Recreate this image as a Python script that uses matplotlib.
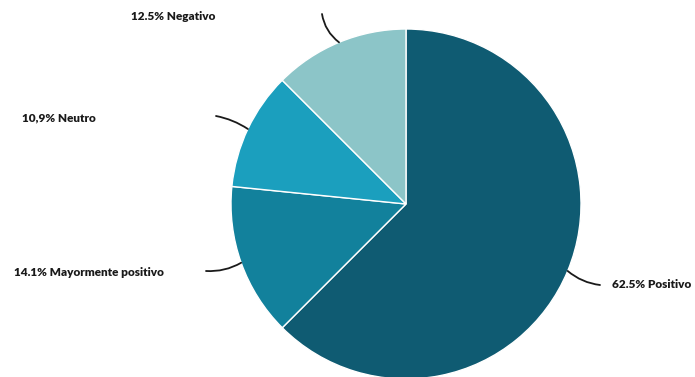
import numpy as np
import matplotlib
matplotlib.use("Agg")
import matplotlib.pyplot as plt

labels = ["Positivo", "Mayormente positivo", "Neutro", "Negativo"]
values = [62.5, 14.1, 10.9, 12.5]
pct_text = ["62.5%", "14.1%", "10,9%", "12.5%"]
colors = ["#0f5b72", "#12819c", "#1b9fbe", "#8cc5c8"]

W, H = 695, 377
CX, CY, R = 406, 204, 175  # pixel geometry of the pie


def px(x, y):
    return ((x - CX) / R, (CY - y) / R)


fig = plt.figure(figsize=(W / 100, H / 100), dpi=100)
ax = fig.add_axes([0, 0, 1, 1])

wedges, _ = ax.pie(values, colors=colors, startangle=90, counterclock=False,
                   radius=1.0, center=(0, 0), frame=True,
                   wedgeprops=dict(edgecolor="white", linewidth=1.0))
ax.set_xlim(-CX / R, (W - CX) / R)
ax.set_ylim(-(H - CY) / R, CY / R)
ax.set_aspect("auto")
ax.axis("off")

# leader line ends (pixel) and text anchors (pixel, left edge, center y)
line_end = [(600, 285), (206, 271), (216, 116), (322, 14)]
text_pos = [(612, 285), (14, 273), (22, 118), (131, 17)]
rads = [-0.15, 0.15, -0.1, 0.2]

for w, le, tp, lab, pt, rad in zip(wedges, line_end, text_pos, labels, pct_text, rads):
    ang = np.deg2rad((w.theta1 + w.theta2) / 2)
    start = (np.cos(ang), np.sin(ang))
    ax.annotate("", xy=start, xytext=px(*le),
                arrowprops=dict(arrowstyle="-", color="#1a1a1a", lw=1.3,
                                shrinkA=0, shrinkB=0,
                                connectionstyle=f"arc3,rad={rad}"))
    tx, ty = px(*tp)
    ax.text(tx, ty, f"{pt} {lab}", ha="left", va="center", fontsize=8.5,
            fontweight="heavy", family="Lato", color="#1a1a1a")

fig.savefig("out.png", dpi=100, facecolor="white")
